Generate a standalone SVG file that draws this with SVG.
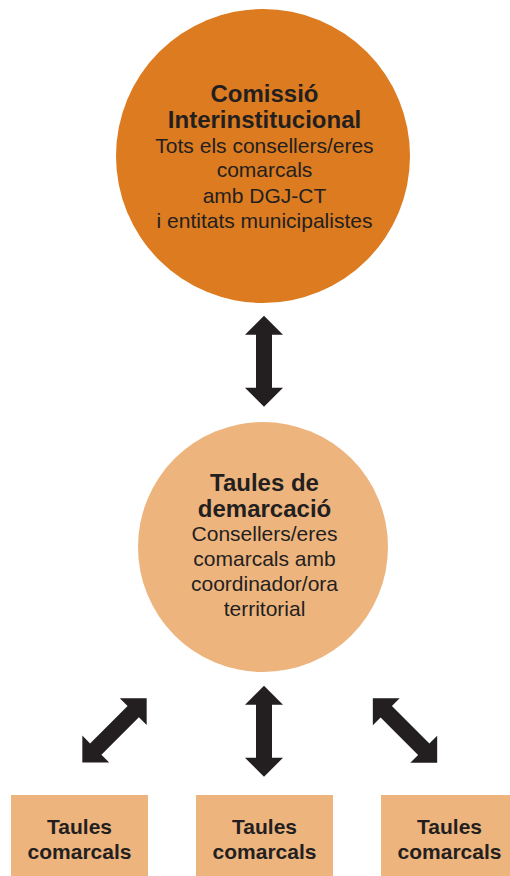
<svg xmlns="http://www.w3.org/2000/svg" width="510" height="876" viewBox="0 0 510 876">
<style>
text{font-family:"Liberation Sans",Arial,sans-serif;fill:#231f20;text-anchor:middle}
.b{font-weight:bold;font-size:24px}
.r{font-size:21px}
.bx{font-weight:bold;font-size:21px}
.arrow{fill:#231f20}
.box{fill:#eeb47e}
</style>
<defs>
<path id="dbl" d="M0,-45.5 L19,-26.5 L8,-26.5 L8,26.5 L19,26.5 L0,45.5 L-19,26.5 L-8,26.5 L-8,-26.5 L-19,-26.5 Z"/>
</defs>
<rect width="510" height="876" fill="#ffffff"/>
<g id="comissio">
<circle cx="263" cy="156" r="147" fill="#dc7b1f"/>
<text class="b" x="264.5" y="102">Comissió</text>
<text class="b" x="264.5" y="128">Interinstitucional</text>
<text class="r" x="264.5" y="153">Tots els consellers/eres</text>
<text class="r" x="264.5" y="177">comarcals</text>
<text class="r" x="264.5" y="202.5">amb DGJ-CT</text>
<text class="r" x="264.5" y="227.5">i entitats municipalistes</text>
</g>
<g id="demarcacio">
<circle cx="263" cy="547" r="125" fill="#eeb47e"/>
<text class="b" x="264.5" y="490.5">Taules de</text>
<text class="b" x="264.5" y="516.5">demarcació</text>
<text class="r" x="264.5" y="541">Consellers/eres</text>
<text class="r" x="264.5" y="566">comarcals amb</text>
<text class="r" x="264.5" y="591">coordinador/ora</text>
<text class="r" x="264.5" y="616">territorial</text>
</g>
<g id="comarcals1">
<rect class="box" x="11" y="795" width="137" height="81"/>
<text class="bx" x="79.5" y="833.5">Taules</text>
<text class="bx" x="79.5" y="858.5">comarcals</text>
</g>
<g id="comarcals2">
<rect class="box" x="196" y="795" width="137" height="81"/>
<text class="bx" x="264.5" y="833.5">Taules</text>
<text class="bx" x="264.5" y="858.5">comarcals</text>
</g>
<g id="comarcals3">
<rect class="box" x="381" y="795" width="137" height="81"/>
<text class="bx" x="449.5" y="833.5">Taules</text>
<text class="bx" x="449.5" y="858.5">comarcals</text>
</g>
<g id="connectors">
<use href="#dbl" class="arrow" transform="translate(264,361.3)"/>
<use href="#dbl" class="arrow" transform="translate(264,731.3)"/>
<use href="#dbl" class="arrow" transform="translate(114.5,730.3) rotate(45)"/>
<use href="#dbl" class="arrow" transform="translate(405,730.5) rotate(-45)"/>
</g>
</svg>
